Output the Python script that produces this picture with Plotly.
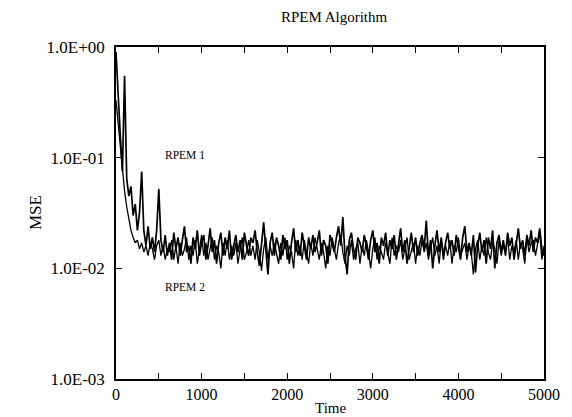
import plotly.graph_objects as go

time = list(range(0, 5001, 25))

rpem1 = [
    0.9, 0.35, 0.16, 0.075, 0.55, 0.065, 0.045, 0.055, 0.03, 0.038,
    0.022, 0.032, 0.075, 0.022, 0.016, 0.024, 0.015, 0.019, 0.014, 0.022,
    0.052, 0.018, 0.014, 0.02, 0.013,
    0.017, 0.012, 0.021, 0.015, 0.019, 0.013, 0.018, 0.024, 0.014, 0.016,
    0.011, 0.019, 0.015, 0.022, 0.013, 0.017, 0.020, 0.012, 0.016, 0.023,
    0.014, 0.018, 0.011, 0.017, 0.021, 0.013, 0.019, 0.015, 0.022, 0.012,
    0.016, 0.020, 0.014, 0.018, 0.012, 0.021, 0.016, 0.013, 0.019, 0.017,
    0.022, 0.014, 0.0105, 0.018, 0.026, 0.015, 0.0088, 0.017, 0.021, 0.013,
    0.019, 0.016, 0.012, 0.020, 0.015, 0.018, 0.011, 0.017, 0.023, 0.014,
    0.018, 0.013, 0.021, 0.016, 0.012, 0.019, 0.015, 0.020, 0.014, 0.017,
    0.022, 0.013, 0.018, 0.016, 0.011, 0.020, 0.017, 0.014, 0.019, 0.024,
    0.016, 0.029, 0.013, 0.0088, 0.018, 0.021, 0.015, 0.012, 0.019, 0.017,
    0.014, 0.020, 0.016, 0.012, 0.018, 0.022, 0.014, 0.017, 0.011, 0.019,
    0.016, 0.021, 0.013, 0.018, 0.015, 0.020, 0.012, 0.017, 0.023, 0.014,
    0.018, 0.011, 0.016, 0.021, 0.014, 0.019, 0.013, 0.017, 0.020, 0.015,
    0.027, 0.013, 0.018, 0.010, 0.016, 0.022, 0.014, 0.019, 0.012, 0.017,
    0.021, 0.015, 0.018, 0.013, 0.020, 0.016, 0.012, 0.019, 0.024, 0.014,
    0.017, 0.013, 0.020, 0.0092, 0.016, 0.021, 0.014, 0.018, 0.011, 0.019,
    0.015, 0.022, 0.010, 0.017, 0.020, 0.014, 0.018, 0.013, 0.021, 0.016,
    0.019, 0.012, 0.017, 0.023, 0.015, 0.018, 0.013, 0.020, 0.016, 0.022,
    0.014, 0.019, 0.017, 0.023, 0.015, 0.013,
]

rpem2 = [
    0.33, 0.2, 0.12, 0.075, 0.05, 0.036, 0.028, 0.022, 0.019, 0.017,
    0.018, 0.015, 0.017, 0.014, 0.016, 0.013, 0.017, 0.015, 0.012, 0.016,
    0.018, 0.013, 0.016, 0.012, 0.015,
    0.014, 0.018, 0.012, 0.016, 0.011, 0.017, 0.013, 0.015, 0.019, 0.012,
    0.016, 0.013, 0.018, 0.011, 0.015, 0.020, 0.013, 0.017, 0.012, 0.015,
    0.019, 0.012, 0.016, 0.014, 0.010, 0.017, 0.013, 0.018, 0.012, 0.016,
    0.013, 0.017, 0.011, 0.015, 0.019, 0.012, 0.014, 0.018, 0.013, 0.016,
    0.012, 0.018, 0.014, 0.0095, 0.015, 0.019, 0.012, 0.016, 0.013, 0.017,
    0.014, 0.011, 0.017, 0.013, 0.019, 0.012, 0.016, 0.014, 0.010, 0.018,
    0.013, 0.016, 0.012, 0.018, 0.014, 0.011, 0.017, 0.013, 0.019, 0.015,
    0.012, 0.017, 0.014, 0.010, 0.016, 0.013, 0.019, 0.015, 0.012, 0.017,
    0.020, 0.014, 0.011, 0.016, 0.013, 0.018, 0.012, 0.015, 0.017, 0.011,
    0.016, 0.013, 0.018, 0.014, 0.010, 0.015, 0.019, 0.012, 0.016, 0.014,
    0.012, 0.017, 0.014, 0.011, 0.019, 0.013, 0.016, 0.014, 0.018, 0.012,
    0.015, 0.019, 0.012, 0.014, 0.017, 0.011, 0.016, 0.013, 0.018, 0.014,
    0.017, 0.012, 0.015, 0.019, 0.013, 0.016, 0.011, 0.018, 0.014, 0.016,
    0.013, 0.018, 0.011, 0.016, 0.014, 0.019, 0.013, 0.015, 0.017, 0.012,
    0.016, 0.014, 0.0088, 0.015, 0.018, 0.012, 0.016, 0.013, 0.019, 0.014,
    0.012, 0.017, 0.015, 0.011, 0.018, 0.013, 0.016, 0.014, 0.019, 0.012,
    0.016, 0.014, 0.018, 0.012, 0.017, 0.015, 0.011, 0.019, 0.014, 0.017,
    0.018, 0.013, 0.016, 0.021, 0.012, 0.016,
]

x_tickvals = [0, 500, 1000, 1500, 2000, 2500, 3000, 3500, 4000, 4500, 5000]
x_ticktext = ["0", "", "1000", "", "2000", "", "3000", "", "4000", "", "5000"]
y_tickvals = [0.001, 0.01, 0.1, 1.0]
y_ticktext = ["1.0E-03", "1.0E-02", "1.0E-01", "1.0E+00"]

FONT = "Liberation Serif, Times New Roman, serif"

fig = go.Figure()
fig.add_trace(go.Scatter(x=time, y=rpem2, mode="lines", name="RPEM 2",
                         line=dict(color="black", width=1.3)))
fig.add_trace(go.Scatter(x=time, y=rpem1, mode="lines", name="RPEM 1",
                         line=dict(color="black", width=1.7)))

fig.add_annotation(x=810, y=-0.98, xref="x", yref="y", text="RPEM 1",
                   showarrow=False, font=dict(family=FONT, size=11.5, color="black"))
fig.add_annotation(x=810, y=-2.17, xref="x", yref="y", text="RPEM 2",
                   showarrow=False, font=dict(family=FONT, size=11.5, color="black"))
# axis titles
fig.add_annotation(x=0.5, y=-0.087, xref="paper", yref="paper", text="Time",
                   showarrow=False, xanchor="center", yanchor="middle",
                   font=dict(family=FONT, size=15, color="black"))
fig.add_annotation(x=-0.189, y=0.5, xref="paper", yref="paper", text="MSE",
                   showarrow=False, xanchor="center", yanchor="middle", textangle=-90,
                   font=dict(family=FONT, size=17, color="black"))

fig.update_layout(
    width=572, height=417,
    margin=dict(l=108, r=36, t=39, b=46),
    paper_bgcolor="white", plot_bgcolor="white",
    showlegend=False,
    font=dict(family=FONT, size=16, color="black"),
    title=dict(text="RPEM Algorithm", x=0.57, xanchor="center", y=0.978, yanchor="middle",
               font=dict(family=FONT, size=15, color="black")),
    xaxis=dict(range=[0, 5000], tickvals=x_tickvals, ticktext=x_ticktext,
               ticks="inside", ticklen=6, tickcolor="black", showline=True,
               linecolor="black", linewidth=1.5, mirror="ticks", showgrid=False,
               zeroline=False, automargin=False, ticklabelstandoff=0,
               tickfont=dict(family=FONT, size=16)),
    yaxis=dict(type="log", range=[-3, 0], tickvals=y_tickvals, ticktext=y_ticktext,
               ticks="inside", ticklen=6, tickcolor="black", showline=True,
               linecolor="black", linewidth=1.5, mirror="ticks", showgrid=False,
               zeroline=False, automargin=False,
               tickfont=dict(family=FONT, size=17), ticklabelstandoff=6),
)

fig.write_html("out.html")
